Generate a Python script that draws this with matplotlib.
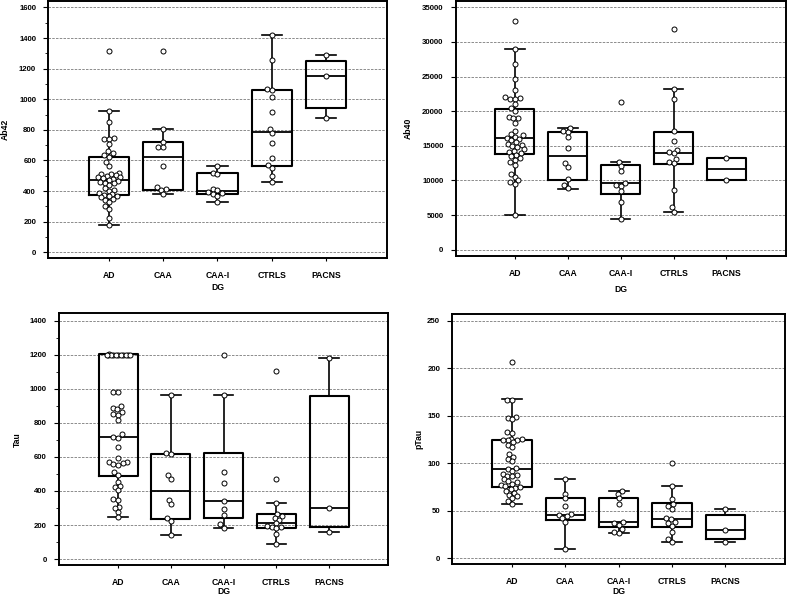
import numpy as np
import matplotlib
matplotlib.use('Agg')
import matplotlib.pyplot as plt
from matplotlib.ticker import MultipleLocator

plt.rcParams['font.family'] = ['Liberation Sans', 'DejaVu Sans']
plt.rcParams['font.weight'] = 'bold'

categories = ['AD', 'CAA', 'CAA-I', 'CTRLS', 'PACNS']

# ---------------- Ab42 ----------------
ab42_AD = [1318, 925, 850, 745, 742, 740, 705, 660, 648, 635, 625, 590, 565, 520, 515, 510,
           505, 500, 495, 490, 485, 478, 472, 468, 462, 455, 450, 440, 420, 410, 400, 390,
           380, 375, 370, 365, 360, 350, 345, 330, 300, 285, 225, 178]
ab42_CAA = [1313, 805, 722, 690, 688, 565, 428, 412, 408, 382]
ab42_CAAI = [565, 520, 515, 415, 405, 392, 385, 380, 368, 330]
ab42_CTRLS = [1420, 1255, 1065, 1060, 1015, 920, 808, 778, 712, 614, 571, 549, 499, 462]
ab42_PACNS = [1290, 1155, 875]
ab42_q1 = [372, 410, 379, 564, 941]
ab42_med = [470, 625, 401, 789, 1150]
ab42_q3 = [625, 719, 516, 1061, 1253]
ab42_lo = [178, 382, 330, 462, 875]
ab42_hi = [925, 805, 565, 1420, 1290]

# ---------------- Ab40 ----------------
ab40_AD = [33075, 28983, 26800, 24700, 23000, 22100, 21900, 21800, 21750, 21000, 20400,
           20000, 19200, 19000, 18950, 18300, 17200, 16700, 16500, 16300, 16200, 16000,
           15800, 15500, 15300, 15100, 15000, 14800, 14500, 14300, 14100, 14000, 13700,
           13500, 13200, 13000, 12600, 12300, 11000, 10500, 10000, 9800, 9500, 5050]
ab40_CAA = [17600, 17100, 17000, 16300, 14650, 12550, 12000, 10150, 9350, 8850]
ab40_CAAI = [21300, 12700, 12050, 11300, 9650, 9400, 9250, 8500, 6900, 4500]
ab40_CTRLS = [31800, 23200, 21800, 17100, 15700, 14400, 14150, 13950, 13050, 12600, 12450,
              8600, 6100, 5450]
ab40_PACNS = [13250, 10050]
ab40_q1 = [13769, 10110, 7990, 12370, 10014]
ab40_med = [16128, 13528, 9580, 13910, 11650]
ab40_q3 = [20317, 16947, 12180, 17040, 13240]
ab40_lo = [5055, 8810, 4480, 5440, 10014]
ab40_hi = [28983, 17620, 12710, 23200, 13240]

# ---------------- Tau ----------------
tau_AD = [1205, 1200, 1200, 1200, 1200, 1200, 1200, 1200, 1200, 1200, 1200, 1200,
          983, 980, 899, 885, 880, 865, 850, 845, 816, 732, 718, 712, 660, 591, 572, 570,
          562, 560, 552, 509, 493, 454, 430, 425, 405, 350, 345, 307, 298, 278, 247]
tau_CAA = [961, 625, 615, 493, 470, 347, 321, 239, 225, 139]
tau_CAAI = [1200, 961, 513, 448, 341, 292, 258, 204, 184]
tau_CTRLS = [1105, 470, 330, 265, 252, 240, 228, 210, 192, 190, 188, 182, 150, 86]
tau_PACNS = [1183, 302, 160]
tau_q1 = [489, 233, 240, 184, 190]
tau_med = [720, 401, 339, 213, 302]
tau_q3 = [1202, 615, 623, 262, 959]
tau_lo = [247, 139, 182, 86, 160]
tau_hi = [1202, 961, 961, 331, 1183]

# ---------------- pTau ----------------
ptau_AD = [207, 167, 166, 149, 148, 146, 133, 132, 125, 125, 124, 124, 124, 122, 119, 117,
           110, 107, 104, 102, 95, 94, 92, 89, 88, 87, 86, 83, 81, 80, 78, 77, 76, 75, 74,
           73, 71, 69, 67, 65, 63, 60, 57]
ptau_CAA = [83, 68, 63, 55, 47, 46, 44, 42, 38, 10]
ptau_CAAI = [71, 68, 63, 57, 38, 37, 35, 31, 28, 27]
ptau_CTRLS = [100, 76, 62, 57, 55, 52, 42, 41, 38, 37, 34, 28, 20, 17.5]
ptau_PACNS = [52, 30, 17.5]
ptau_q1 = [75.4, 40.3, 33.3, 33.3, 20.3]
ptau_med = [94.3, 45.5, 37.9, 41.4, 29.8]
ptau_q3 = [124.1, 63.1, 63.8, 57.9, 45.6]
ptau_lo = [56.8, 9.8, 27, 17.5, 17.5]
ptau_hi = [167.3, 83.4, 70.8, 76.4, 51.9]

W_FIG, H_FIG = 787, 597
fig = plt.figure(figsize=(W_FIG / 100, H_FIG / 100), dpi=100)


def swarm_offsets(ypix, d=4.8, W=11.5):
    order = np.argsort(ypix, kind='stable')
    cands = np.arange(-W, W + 0.001, 0.25)
    px, py = [], []
    out = np.zeros(len(ypix))
    for i in order:
        y = ypix[i]
        if px:
            ax_ = np.array(px)
            ay_ = np.array(py)
            dist = np.sqrt((cands[:, None] - ax_[None, :]) ** 2 + (y - ay_[None, :]) ** 2).min(axis=1)
        else:
            dist = np.full(len(cands), np.inf)
        ok = dist >= d
        if ok.any():
            idx = np.where(ok)[0]
            j = idx[np.argmin(np.abs(cands[idx]) + 1e-6 * (cands[idx] > 0))]
        else:
            j = int(np.argmax(dist))
        out[i] = cands[j]
        px.append(cands[j])
        py.append(y)
    return out


def panel(rect_px, groups, q1, med, q3, lo, hi, ylim, major, minor, ylabel,
          ylab_off, xlab_off, yticks_max):
    l, t, r, b = rect_px
    ax = fig.add_axes([l / W_FIG, 1 - b / H_FIG, (r - l) / W_FIG, (b - t) / H_FIG])
    pos = np.arange(1, len(categories) + 1)

    stats = []
    for i in range(len(categories)):
        stats.append(dict(med=med[i], q1=q1[i], q3=q3[i], whislo=lo[i], whishi=hi[i], fliers=[]))
    ax.bxp(stats, positions=pos, widths=0.74, showfliers=False, manage_ticks=False,
           boxprops=dict(color='black', linewidth=1.5),
           medianprops=dict(color='black', linewidth=1.3),
           whiskerprops=dict(color='black', linewidth=1.2),
           capprops=dict(color='black', linewidth=1.2), zorder=2)

    ax.set_xlim(1 - 1.12, len(categories) + 1.12)
    ax.set_ylim(*ylim)
    ax.set_yticks(np.arange(0, yticks_max + 1, major))
    if minor:
        ax.yaxis.set_minor_locator(MultipleLocator(minor))
    ax.set_xticks(pos)
    ax.set_xticklabels(categories)
    ax.yaxis.grid(True, which='major', linestyle=(0, (3, 1.5)), linewidth=0.6, color='#7a7a7a')
    ax.set_axisbelow(True)
    for s in ax.spines.values():
        s.set_linewidth(1.4)
        s.set_color('black')
    ax.tick_params(axis='y', which='major', direction='out', length=3.8, width=0.8,
                   labelsize=5.6, pad=5)
    ax.tick_params(axis='y', which='minor', direction='out', length=2.2, width=0.6)
    ax.tick_params(axis='x', direction='out', length=2.5, width=0.8, labelsize=6.2, pad=7)
    for lab in ax.get_xticklabels() + ax.get_yticklabels():
        lab.set_fontweight('bold')

    inv = ax.transData.inverted()
    for i, vals in enumerate(groups):
        vals = np.asarray(vals, dtype=float)
        pts = ax.transData.transform(np.column_stack([np.full(len(vals), pos[i]), vals]))
        off = swarm_offsets(pts[:, 1])
        data = inv.transform(np.column_stack([pts[:, 0] + off, pts[:, 1]]))
        ax.scatter(data[:, 0], data[:, 1], s=13, facecolor='white', edgecolor='black',
                   linewidth=0.7, zorder=3, clip_on=False)

    ax.text(-ylab_off / (r - l), 0.5, ylabel, transform=ax.transAxes, rotation=90,
            ha='center', va='center', fontsize=6.2, fontweight='bold')
    ax.text(0.5, -xlab_off / (b - t), 'DG', transform=ax.transAxes,
            ha='center', va='center', fontsize=6.2, fontweight='bold')
    return ax


panel((48.3, 1, 386.7, 258.3),
      [ab42_AD, ab42_CAA, ab42_CAAI, ab42_CTRLS, ab42_PACNS],
      ab42_q1, ab42_med, ab42_q3, ab42_lo, ab42_hi,
      (-39, 1642), 200, 100, 'Ab42', 43, 29, 1600)

panel((455.7, 1, 785.7, 256),
      [ab40_AD, ab40_CAA, ab40_CAAI, ab40_CTRLS, ab40_PACNS],
      ab40_q1, ab40_med, ab40_q3, ab40_lo, ab40_hi,
      (-910, 35910), 5000, None, 'Ab40', 47, 33, 35000)

panel((59, 313.3, 388.3, 565),
      [tau_AD, tau_CAA, tau_CAAI, tau_CTRLS, tau_PACNS],
      tau_q1, tau_med, tau_q3, tau_lo, tau_hi,
      (-35, 1444), 200, 100, 'Tau', 42, 27, 1400)

panel((452.3, 314, 785, 564.3),
      [ptau_AD, ptau_CAA, ptau_CAAI, ptau_CTRLS, ptau_PACNS],
      ptau_q1, ptau_med, ptau_q3, ptau_lo, ptau_hi,
      (-6.4, 257), 50, None, 'pTau', 33, 27, 250)

fig.savefig('out.png', dpi=100)
